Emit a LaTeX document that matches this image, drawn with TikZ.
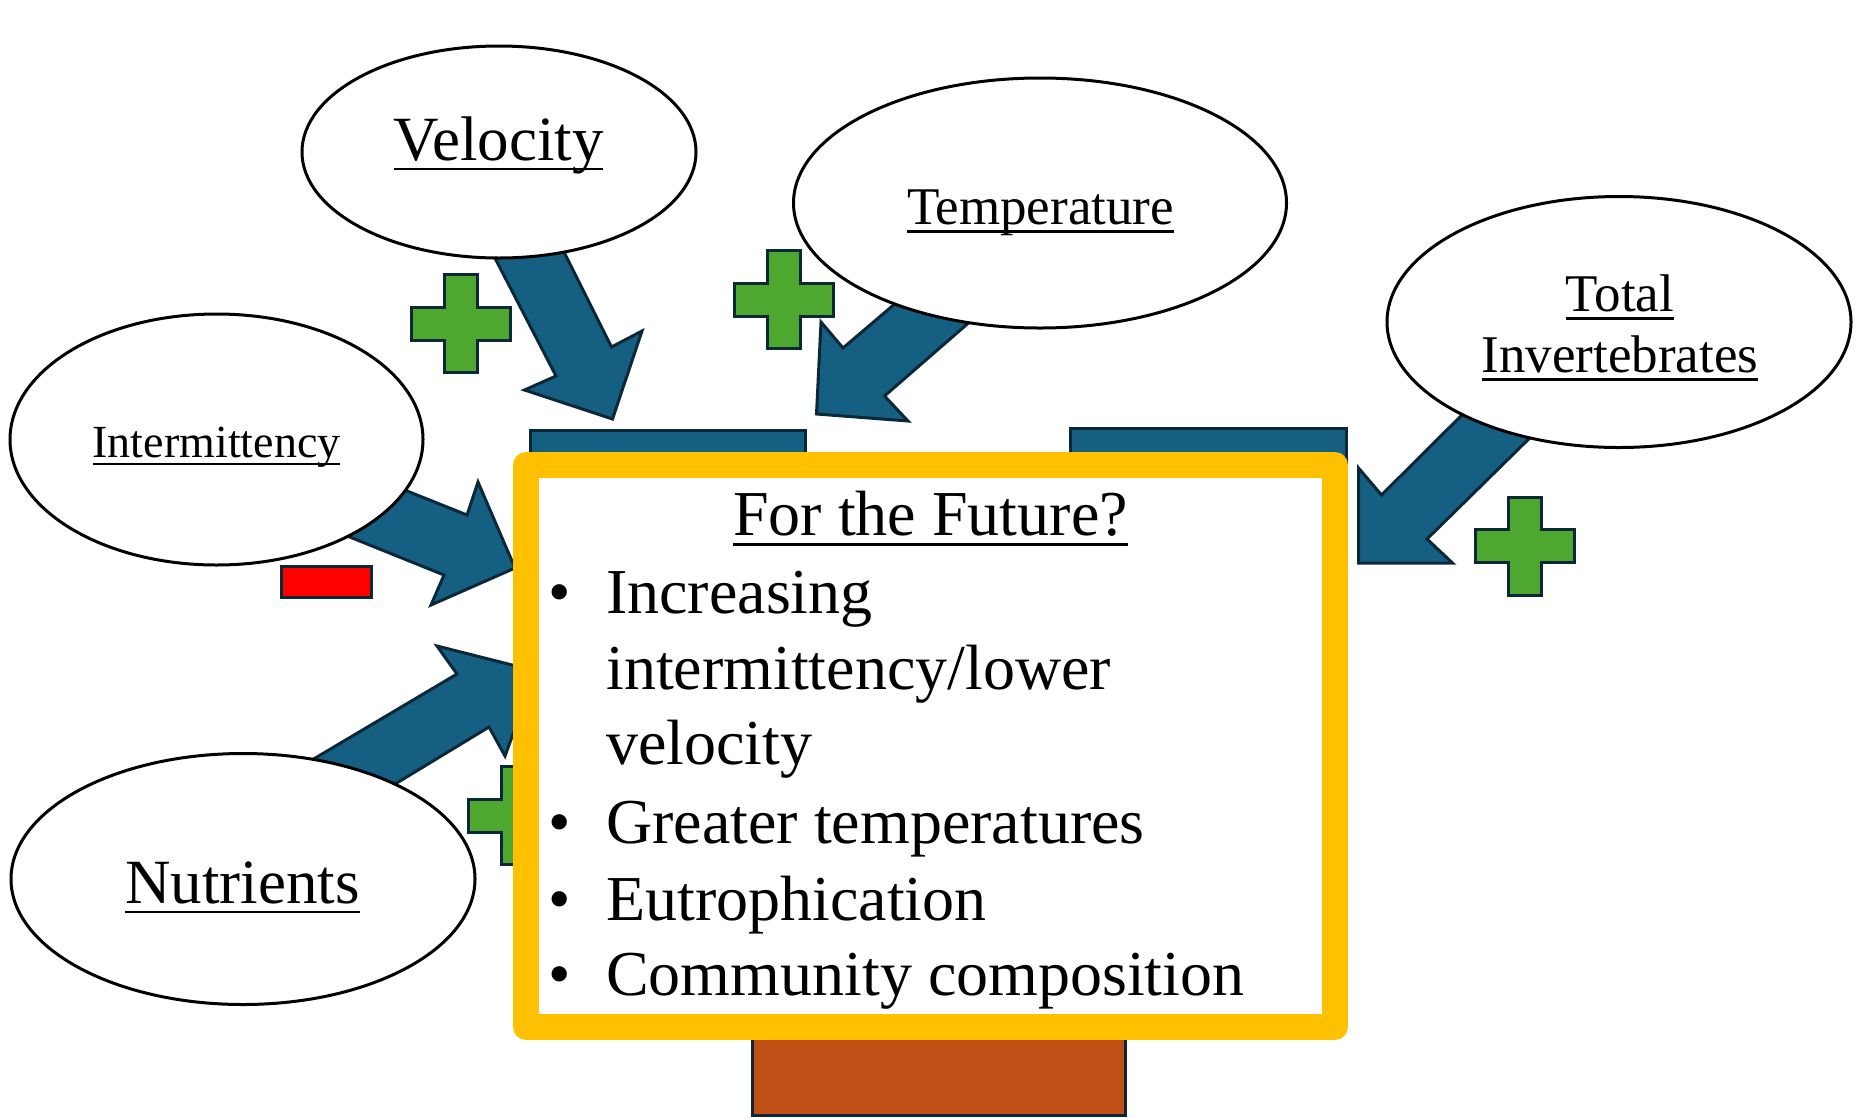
\documentclass[tikz,border=0pt]{standalone}
\usepackage{fontspec}
\setmainfont{Liberation Serif}
\usetikzlibrary{shapes.geometric}

\definecolor{flowblue}{HTML}{156082}
\definecolor{edgenavy}{HTML}{0C2838}
\definecolor{plusgreen}{HTML}{4EA72E}
\definecolor{minusred}{HTML}{FF0000}
\definecolor{boxyellow}{HTML}{FFC000}
\definecolor{rootorange}{HTML}{C04F15}

% underline through the descenders, Word style
\newcommand{\ulword}[1]{\setbox0\hbox{#1}\rlap{\rule[-0.165em]{\wd0}{0.045em}}\box0}
% green plus sign centred at (#1,#2)
\newcommand{\plussign}[2]{%
  \draw[plus, shift={(#1,#2)}] (-16.5,-49) -- (16.5,-49) -- (16.5,-16.5) -- (49.5,-16.5)
    -- (49.5,16.5) -- (16.5,16.5) -- (16.5,49) -- (-16.5,49) -- (-16.5,16.5)
    -- (-49.5,16.5) -- (-49.5,-16.5) -- (-16.5,-16.5) -- cycle;}

\begin{document}
\begin{tikzpicture}[x=1pt, y=-1pt,
    bubble/.style={ellipse, draw=black, line width=3pt, fill=white, inner sep=0pt},
    blockarrow/.style={fill=flowblue, draw=edgenavy, line width=3pt, line join=miter},
    plus/.style={fill=plusgreen, draw=edgenavy, line width=3pt},
    word/.style={anchor=base, inner sep=0pt},
    item/.style={anchor=base west, inner sep=0pt, font=\fontsize{64}{76}\selectfont}]
  \useasboundingbox (0,0) rectangle (1862,1117);
  % Bars behind the box
  \draw[fill=flowblue, draw=edgenavy, line width=3pt] (530.5,430.5) rectangle (805,620);
  \draw[fill=flowblue, draw=edgenavy, line width=3pt] (1070.5,428.5) rectangle (1346,620);
  \draw[fill=rootorange, draw=edgenavy, line width=3pt] (752,1000) rectangle (1125,1115);
  % Block arrows
  \draw[blockarrow] (483,235) -- (552,228) -- (611.5,347) -- (642,331) -- (612.5,419)
    -- (524.5,390) -- (556,376) -- cycle;
  \draw[blockarrow] (910,291) -- (984.5,309) -- (884.5,396) -- (908,421) -- (816.5,414)
    -- (821,322) -- (843,348) -- cycle;
  \draw[blockarrow] (1480,397) -- (1547,421) -- (1427,539) -- (1452.5,563) -- (1358.5,563)
    -- (1358.5,468) -- (1381.5,495) -- cycle;
  \draw[blockarrow] (377,479) -- (467,515) -- (478,482) -- (515,568) -- (431,605)
    -- (444,575) -- (320,525) -- cycle;
  \draw[blockarrow] (290,773) -- (457,674) -- (437,646) -- (536,671) -- (505,756)
    -- (489,727) -- (372,798) -- cycle;
  % Drivers
  \node[bubble, minimum width=394, minimum height=212] (velocity) at (499,152) {};
  \node[bubble, minimum width=493, minimum height=250] (temperature) at (1040,203) {};
  \node[bubble, minimum width=464, minimum height=251] (invertebrates) at (1619,322) {};
  \node[bubble, minimum width=413, minimum height=251] (intermittency) at (216.5,439.5) {};
  \node[bubble, minimum width=464, minimum height=251] (nutrients) at (243,879) {};
  \node[word, font=\fontsize{63}{70}\selectfont] (velocity-txt) at (498.5,160) {\ulword{Velocity}};
  \node[word, font=\fontsize{53}{60}\selectfont] (temperature-txt) at (1040.5,224) {\ulword{Temperature}};
  \node[word, font=\fontsize{53}{60}\selectfont] (total-txt) at (1620,311) {\ulword{Total}};
  \node[word, font=\fontsize{53}{60}\selectfont] (invertebrates-txt) at (1620,372) {\ulword{Invertebrates}};
  \node[word, font=\fontsize{46}{52}\selectfont] (intermittency-txt) at (216.5,457) {\ulword{Intermittency}};
  \node[word, font=\fontsize{63}{70}\selectfont] (nutrients-txt) at (242.5,903) {\ulword{Nutrients}};
  % Signs
  \plussign{460.5}{323.5}
  \plussign{784}{299.5}
  \plussign{1524.5}{546}
  \plussign{517.5}{815.5}
  \draw[fill=minusred, draw=edgenavy, line width=3pt] (281,566) rectangle (371,597);
  % Outlook box
  \draw[boxyellow, fill=white, line width=26pt, line join=round] (526,465) rectangle (1335,1027);
  \node[word, font=\fontsize{64}{76}\selectfont] (future) at (930.5,535) {\ulword{For the Future?}};
  \foreach \yy/\txt in {613/Increasing, 843/Greater temperatures, 920/Eutrophication,
      995/Community composition}
    \node[item] at (606,\yy) {\txt};
  \node[item] (line-two) at (606,689) {intermittency/lower};
  \node[item] (line-three) at (606,764) {velocity};
  \foreach \yy in {613,843,920,995}
    \node[item, anchor=base] at (560,\yy) {\textbullet};
\end{tikzpicture}
\end{document}
